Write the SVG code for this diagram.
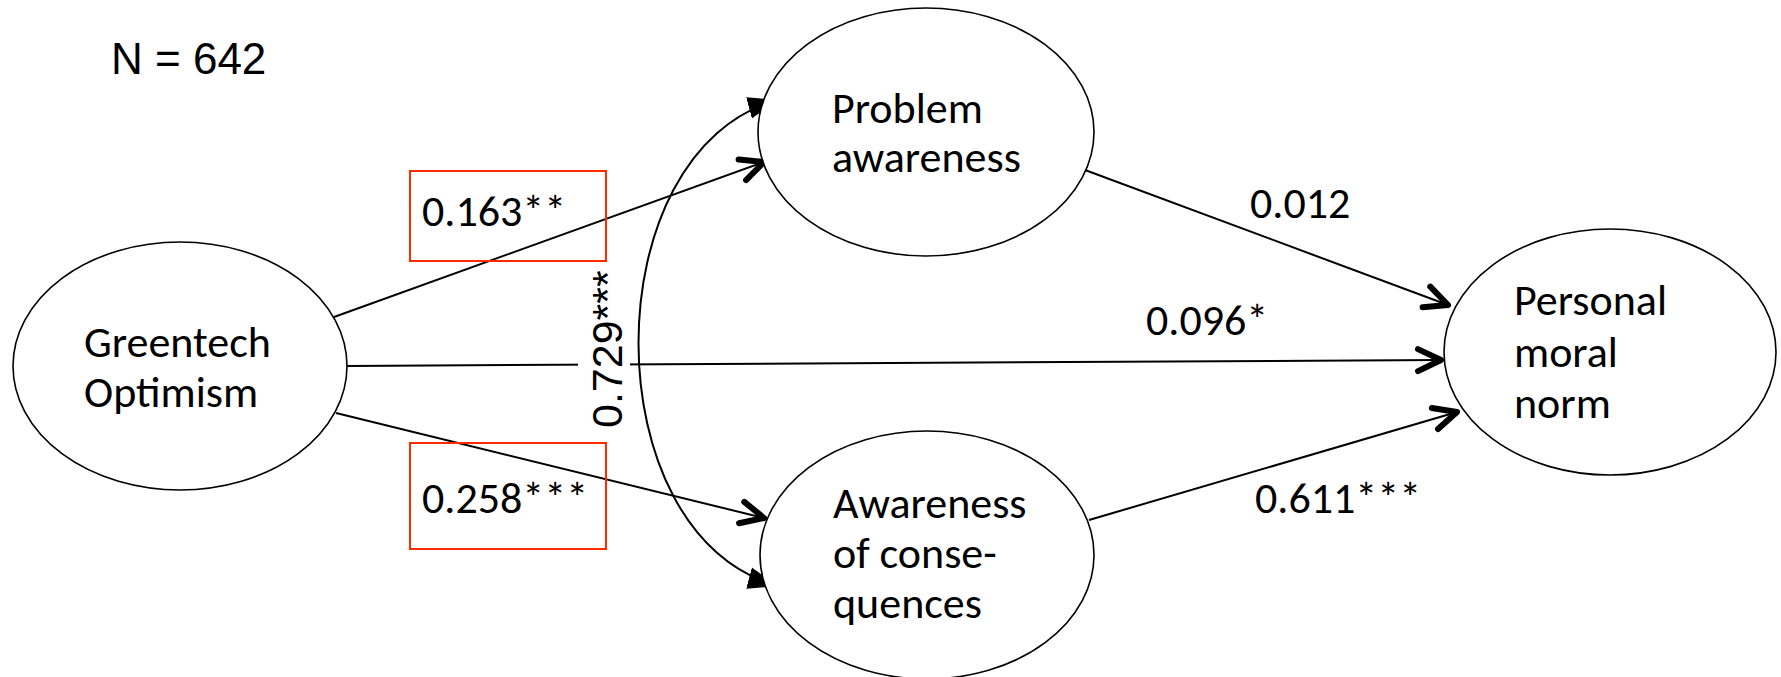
<svg xmlns="http://www.w3.org/2000/svg" width="1781" height="677" viewBox="0 0 1781 677">
<style>
.node{fill:#fff;stroke:#000;stroke-width:1.6}
.lbl{font-family:Carlito,"Liberation Sans",Arial,sans-serif;font-size:44px;fill:#000}
.arial{font-family:"Liberation Sans",Arial,sans-serif;fill:#000}
.edge{fill:none;stroke:#000;stroke-width:2}
.box{fill:none;stroke:#ff2a00;stroke-width:2}
</style>
<defs>
<marker id="arr" viewBox="0 0 32 32" markerWidth="32" markerHeight="32" refX="27" refY="16" orient="auto" markerUnits="userSpaceOnUse">
<path d="M4,5 L27,16 L4,27" fill="none" stroke="#000" stroke-width="6" stroke-linecap="round" stroke-linejoin="round"/>
</marker>
<marker id="tri" viewBox="0 0 30 24" markerWidth="30" markerHeight="24" refX="30" refY="12" orient="auto-start-reverse" markerUnits="userSpaceOnUse">
<path d="M0,1 L30,12 L0,23 z" fill="#000"/>
</marker>
</defs>
<rect width="1781" height="677" fill="#fff"/>
<text class="arial" x="111" y="74" font-size="44">N = 642</text>
<g id="connectors">
<line class="edge" x1="334" y1="317" x2="764" y2="162" marker-end="url(#arr)"/>
<line class="edge" x1="347" y1="366" x2="1441" y2="360" marker-end="url(#arr)" stroke-width="2.4"/>
<line class="edge" x1="336" y1="413" x2="764" y2="518" marker-end="url(#arr)"/>
<line class="edge" x1="1085" y1="170" x2="1448" y2="305" marker-end="url(#arr)"/>
<line class="edge" x1="1089" y1="520" x2="1457" y2="412" marker-end="url(#arr)"/>
<path class="edge" stroke-width="2.4" d="M778,100 C592,150 592,536 778,586" marker-start="url(#tri)" marker-end="url(#tri)"/>
</g>
<g id="label-0729">
<rect x="578" y="262" width="52" height="172" fill="#fff"/>
<text class="arial" font-size="43" transform="translate(622,428) rotate(-90)">0.729***</text>
</g>
<g id="label-0163">
<rect class="box" x="410" y="171" width="196" height="90"/>
<text class="lbl" x="422" y="226">0.163**</text>
</g>
<g id="label-0258">
<rect class="box" x="410" y="443" width="196" height="106"/>
<text class="lbl" x="422" y="513">0.258***</text>
</g>
<text class="lbl" x="1250" y="218">0.012</text>
<text class="lbl" x="1146" y="335">0.096*</text>
<text class="lbl" x="1255" y="513">0.611***</text>
<g id="greentech">
<ellipse class="node" cx="180" cy="366" rx="167" ry="124"/>
<text class="lbl" x="84" y="357">Greentech</text>
<text class="lbl" x="84" y="407">Optimism</text>
</g>
<g id="problem">
<ellipse class="node" cx="926" cy="132" rx="168" ry="124"/>
<text class="lbl" x="832" y="123">Problem</text>
<text class="lbl" x="832" y="172">awareness</text>
</g>
<g id="awareness">
<ellipse class="node" cx="927" cy="555" rx="167" ry="124"/>
<text class="lbl" x="833" y="518">Awareness</text>
<text class="lbl" x="833" y="568">of conse-</text>
<text class="lbl" x="833" y="618">quences</text>
</g>
<g id="personal">
<ellipse class="node" cx="1610" cy="352" rx="166" ry="123"/>
<text class="lbl" x="1514" y="315">Personal</text>
<text class="lbl" x="1514" y="367">moral</text>
<text class="lbl" x="1514" y="418">norm</text>
</g>
</svg>
